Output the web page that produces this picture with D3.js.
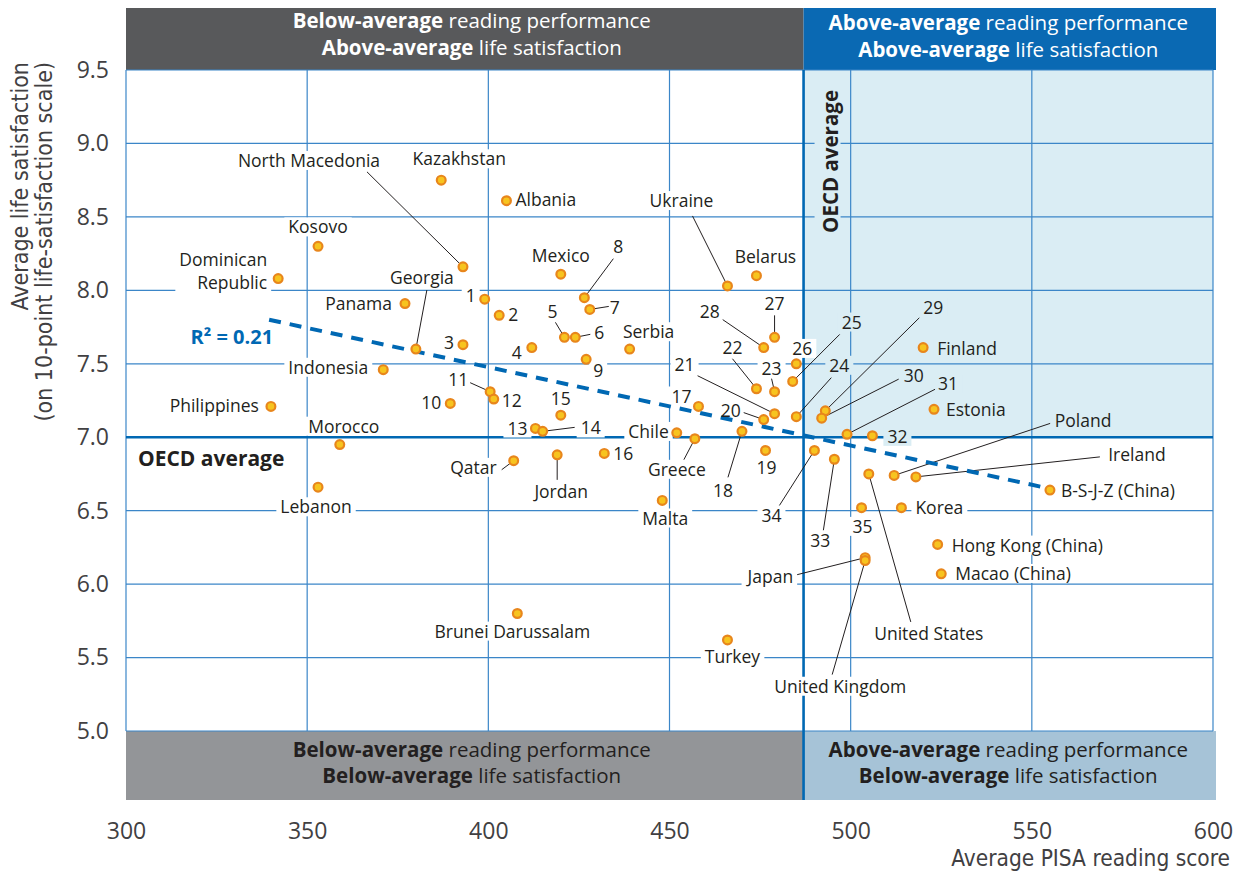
<!DOCTYPE html>
<html><head><meta charset="utf-8">
<script src="https://cdn.jsdelivr.net/npm/d3@7"></script>
<style>body{margin:0;background:#fff}svg{display:block}</style>
</head><body><svg id="chart" width="1240" height="872"></svg>
<script>
// ---------------- DATA ----------------
const countries = ["Kazakhstan","Albania","Kosovo","North Macedonia","Dominican Republic","Mexico","Belarus","Ukraine","Panama","Georgia",
 "1","2","8","7","5","6","3","4","Serbia","9",
 "28","27","26","25","22","23","24","21","20","17",
 "29","30","31","32","Finland","Estonia","Indonesia","11","12","10",
 "Philippines","15","13","14","Chile","Greece","18","19","Morocco","Qatar",
 "Jordan","16","Lebanon","Malta","34","33","35","Korea","Poland","Ireland",
 "B-S-J-Z (China)","United States","Hong Kong (China)","Macao (China)","Japan","United Kingdom","Brunei Darussalam","Turkey"];
const readingScore = [387,405,353,393,342,420,474,466,377,380,
 399,403,426.5,428,421,424,393,412,439,427,
 476,479,485,484,474,479,485,479,476,458,
 493,492,499,506,520,523,371,400.5,401.5,389.5,
 340,420,413,415,452,457,470,476.5,359,407,
 419,432,353,448,490,495.5,503,514,512,518,
 555,505,524,525,504,504,408,466];
const lifeSatisfaction = [8.75,8.61,8.30,8.16,8.08,8.11,8.10,8.03,7.91,7.60,
 7.94,7.83,7.95,7.87,7.68,7.68,7.63,7.61,7.60,7.53,
 7.61,7.68,7.50,7.38,7.33,7.31,7.14,7.16,7.12,7.21,
 7.18,7.13,7.02,7.01,7.61,7.19,7.46,7.31,7.26,7.23,
 7.21,7.15,7.06,7.04,7.03,6.99,7.04,6.91,6.95,6.84,
 6.88,6.89,6.66,6.57,6.91,6.85,6.52,6.52,6.74,6.73,
 6.64,6.75,6.27,6.07,6.18,6.16,5.80,5.62];
const xTickValues = [300,350,400,450,500,550,600];
const yTickValues = [5.0,5.5,6.0,6.5,7.0,7.5,8.0,8.5,9.0,9.5];
const oecdReading = 487;
const oecdLife = 7.0;
const trendReading = [339.5,554];
const trendLife = [7.80,6.655];
const rSquaredText = "R² = 0.21";
const xTitle = "Average PISA reading score";
const yTitleLines = ["Average life satisfaction","(on 10-point life-satisfaction scale)"];
const quadrantTitles = [
  [["Below-average"," reading performance"],["Above-average"," life satisfaction"]],
  [["Above-average"," reading performance"],["Above-average"," life satisfaction"]],
  [["Below-average"," reading performance"],["Below-average"," life satisfaction"]],
  [["Above-average"," reading performance"],["Below-average"," life satisfaction"]]
];

// ---------------- LABEL LAYOUT (pixel offsets from point) ----------------
// [dx, dy, anchor, leaderDx, leaderDy]
const labelLayout = {
 "Kazakhstan":[18,-21,"middle"], "Albania":[9,-1,"start"], "Kosovo":[0,-19,"middle"],
 "North Macedonia":[-154,-106,"middle",-96,-95], "Dominican Republic":[-11,-6,"end"],
 "Mexico":[0,-18,"middle"], "Belarus":[9,-19,"middle"], "Ukraine":[-46,-85,"middle",-35,-70],
 "Panama":[-13,0,"end"], "Georgia":[6,-71,"middle",11,-59],
 "1":[-14,-3,"middle"], "2":[14,0,"middle"], "8":[34,-51,"middle",29,-39], "7":[25,-2,"middle",19,-3],
 "5":[-12,-25,"middle",-9,-15], "6":[24,-4,"middle",15,-3], "3":[-14,-2,"middle"], "4":[-15,5,"middle"],
 "Serbia":[19,-17,"middle"], "9":[12,12,"middle"],
 "28":[-54,-36,"middle",-41,-28], "27":[0,-33,"middle",0,-22], "26":[6,-15,"middle"],
 "25":[59,-59,"middle",47,-47], "22":[-24,-41,"middle",-24,-30], "23":[-3,-23,"middle",-3,-13],
 "24":[43,-51,"middle",35,-39], "21":[-90,-49,"middle",-77,-38], "20":[-33,-9,"middle",-20,-7],
 "17":[-17,-10,"middle"],
 "29":[108,-103,"middle",94,-93], "30":[92,-42,"middle",77,-39], "31":[101,-50,"middle",88,-45],
 "32":[25,1,"middle"], "Finland":[14,1,"start"], "Estonia":[12,1,"start"], "Indonesia":[-15,-2,"end"],
 "11":[-32,-12,"middle",-20,-9], "12":[18,2,"middle"], "10":[-19,-1,"middle"],
 "Philippines":[-12,-1,"end"], "15":[0,-16,"middle"], "13":[-18,0,"middle"], "14":[48,-3,"middle",32,-4],
 "Chile":[-8,-1,"end"], "Greece":[-18,31,"middle",-11,21], "18":[-19,60,"middle",-14,46],
 "19":[1,17,"middle"], "Morocco":[4,-18,"middle"], "Qatar":[-17,7,"end",-12,9],
 "Jordan":[4,37,"middle",0,25], "16":[19,0,"middle"], "Lebanon":[-2,20,"middle"], "Malta":[3,18,"middle"],
 "34":[-43,65,"middle",-35,55], "33":[-14,82,"middle",-11,71], "35":[1,19,"middle"],
 "Korea":[14,0,"start"], "Poland":[189,-55,"middle",156,-52], "Ireland":[221,-22,"middle",184,-20],
 "B-S-J-Z (China)":[11,1,"start"], "United States":[60,160,"middle",42,148],
 "Hong Kong (China)":[14,1,"start"], "Macao (China)":[14,0,"start"],
 "Japan":[-72,19,"end",-68,17], "United Kingdom":[-25,126,"middle",-33,114],
 "Brunei Darussalam":[-5,18,"middle"], "Turkey":[5,17,"middle"]
};

// ---------------- DRAW ----------------
const svg = d3.select("#chart");
const x = d3.scaleLinear().domain([300,600]).range([126,1213]);
const y = d3.scaleLinear().domain([5,9.5]).range([731,70]);
const ink = "#231f20", blue = "#0068b3", grid = "#3b86c8", shade = "#daedf4", axisInk = "#414042";
const LF = "'Open Sans', 'Noto Sans', sans-serif";
const NF = "'Liberation Sans Narrow', 'DejaVu Sans Condensed', sans-serif";

const x0 = x(300), x1 = x(600), xm = x(oecdReading);
const yTop = y(9.5), yBot = y(5), ym = y(oecdLife);
const headTop = 8, footBot = 800;

// bands
svg.append("rect").attr("x",x0).attr("y",headTop).attr("width",xm-x0).attr("height",yTop-headTop).attr("fill","#58595b");
svg.append("rect").attr("x",xm).attr("y",headTop).attr("width",x1-xm+3).attr("height",yTop-headTop).attr("fill","#0a69b3");
svg.append("rect").attr("x",x0).attr("y",yBot).attr("width",xm-x0).attr("height",footBot-yBot).attr("fill","#939598");
svg.append("rect").attr("x",xm).attr("y",yBot).attr("width",x1-xm+3).attr("height",footBot-yBot).attr("fill","#a6c3d7");
// shaded quadrant
svg.append("rect").attr("x",xm).attr("y",yTop).attr("width",x1-xm).attr("height",ym-yTop).attr("fill",shade);

// grid
const gGrid = svg.append("g");
gGrid.selectAll("line.h").data(yTickValues).join("line")
  .attr("x1",x0).attr("x2",x1).attr("y1",d=>y(d)).attr("y2",d=>y(d))
  .attr("stroke",grid).attr("stroke-width",1.2);
gGrid.selectAll("line.v").data(xTickValues).join("line")
  .attr("y1",yTop).attr("y2",yBot).attr("x1",d=>x(d)).attr("x2",d=>x(d))
  .attr("stroke",grid).attr("stroke-width",1.2);

// OECD lines
svg.append("line").attr("x1",x0).attr("x2",x1).attr("y1",ym).attr("y2",ym).attr("stroke",blue).attr("stroke-width",2.6);
svg.append("line").attr("x1",xm).attr("x2",xm).attr("y1",yTop).attr("y2",footBot).attr("stroke",blue).attr("stroke-width",2.6);

const gBg = svg.append("g");
const gLead = svg.append("g");
const gTrend = svg.append("g");
const gPts = svg.append("g");
const gTxt = svg.append("g");

// header / footer titles
const qCenters = [[(x0+xm)/2+7, [28,55]],[(xm+x1)/2, [30,57]],[(x0+xm)/2+7,[757,783]],[(xm+x1)/2,[757,783]]];
quadrantTitles.forEach((q,i)=>{
  const col = i<2 ? "#ffffff" : ink;
  q.forEach((ln,j)=>{
    const t = svg.append("text").attr("x",qCenters[i][0]).attr("y",qCenters[i][1][j])
      .attr("text-anchor","middle").attr("font-family",LF).attr("font-size",20.5).attr("fill",col);
    t.append("tspan").attr("font-weight","bold").text(ln[0]);
    t.append("tspan").text(ln[1]);
  });
});

// axes
const xAxis = svg.append("g").attr("transform",`translate(0,${footBot})`)
  .call(d3.axisBottom(x).tickValues(xTickValues).tickSize(0).tickFormat(d3.format("d")));
xAxis.select(".domain").remove();
xAxis.selectAll("text").attr("font-family",LF).attr("font-size",23).attr("fill",axisInk)
  .attr("y",0).attr("dy",39).attr("text-anchor","middle");
const yAxis = svg.append("g").attr("transform",`translate(${x0},0)`)
  .call(d3.axisLeft(y).tickValues(yTickValues).tickSize(0).tickPadding(17).tickFormat(d3.format(".1f")));
yAxis.select(".domain").remove();
yAxis.selectAll("text").attr("font-family",LF).attr("font-size",23).attr("fill",axisInk);

svg.append("text").attr("x",1230).attr("y",866).attr("text-anchor","end")
  .attr("font-family",NF).attr("font-size",22.5).attr("fill",axisInk).text(xTitle);
yTitleLines.forEach((s,i)=>{
  svg.append("text").attr("transform",`translate(${28+i*24},62) rotate(-90)`).attr("text-anchor","end")
    .attr("font-family",NF).attr("font-size",23).attr("fill",axisInk).text(s);
});

// trend line
gTrend.append("line")
  .attr("x1",x(trendReading[0])).attr("y1",y(trendLife[0]))
  .attr("x2",x(trendReading[1])).attr("y2",y(trendLife[1]))
  .attr("stroke",blue).attr("stroke-width",4).attr("stroke-dasharray","12 9");
gTxt.append("text").attr("x",x(trendReading[0])+4).attr("y",y(trendLife[0])+24)
  .attr("text-anchor","end").attr("font-family",LF).attr("font-weight","bold").attr("font-size",20)
  .attr("fill",blue).text(rSquaredText);

// OECD average labels
const bgFor = (cx,cy)=> (cx>xm && cx<x1 && cy<ym && cy>yTop) ? shade : "#ffffff";
gTxt.append("text").attr("x",138).attr("y",ym+29).attr("font-family",LF)
  .attr("font-weight","bold").attr("font-size",21).attr("fill",ink).text("OECD average");
const oecdV = gTxt.append("text").attr("transform",`translate(${xm+34},${yTop+20}) rotate(-90)`)
  .attr("text-anchor","end").attr("font-family",LF).attr("font-weight","bold").attr("font-size",20.5)
  .attr("fill",ink).text("OECD average");
{
  const b = oecdV.node().getBBox();
  gBg.append("rect").attr("x",xm+34-b.height+5).attr("y",yTop+20).attr("width",b.height-2).attr("height",b.width+4).attr("fill",shade);
}

// points + labels
countries.forEach((name,i)=>{
  const px = x(readingScore[i]), py = y(lifeSatisfaction[i]);
  const L = labelLayout[name];
  const lx = px+L[0], ly = py+L[1];
  const t = gTxt.append("text").attr("x",lx).attr("y",ly).attr("text-anchor",L[2])
    .attr("font-family",LF).attr("font-size",17.5).attr("fill",ink);
  if (name === "Dominican Republic") {
    const parts = name.split(" ");
    t.append("tspan").attr("x",lx).attr("dy","-0.35em").text(parts[0]);
    t.append("tspan").attr("x",lx).attr("dy","1.3em").text(parts[1]);
  } else {
    t.attr("dy","0.35em").text(name);
  }
  const b = t.node().getBBox();
  gBg.append("rect").attr("x",b.x-4).attr("y",b.y+3).attr("width",b.width+8).attr("height",b.height-5)
    .attr("fill",bgFor(b.x+b.width/2,b.y+b.height/2));
  if (L.length>3) {
    gLead.append("line").attr("x1",px+L[3]).attr("y1",py+L[4]).attr("x2",px).attr("y2",py)
      .attr("stroke",ink).attr("stroke-width",1);
  }
  gPts.append("circle").attr("cx",px).attr("cy",py).attr("r",4.4)
    .attr("fill","#f7c41f").attr("stroke","#e8861c").attr("stroke-width",2.2);
});
</script></body></html>
